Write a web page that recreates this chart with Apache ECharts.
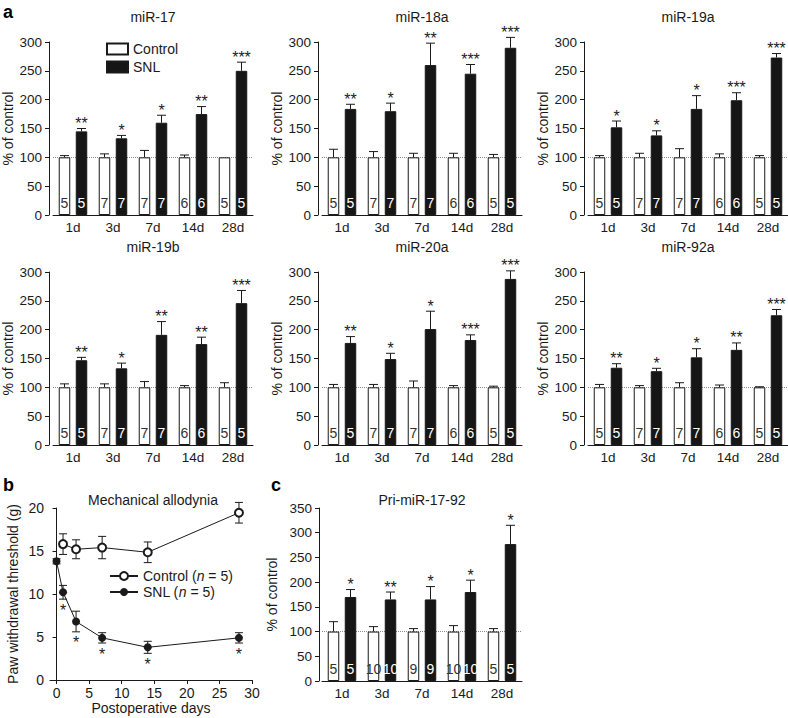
<!DOCTYPE html>
<html>
<head>
<meta charset="utf-8">
<script src="https://cdn.jsdelivr.net/npm/echarts@6/dist/echarts.min.js"></script>
<style>html,body{margin:0;padding:0;background:#fff;}#c{width:788px;height:718px;}</style>
</head>
<body>
<div id="c"></div>
<script>
// ---------- data ----------
const days = ['1d', '3d', '7d', '14d', '28d'];
const panelTitles = ['miR-17', 'miR-18a', 'miR-19a', 'miR-19b', 'miR-20a', 'miR-92a'];
const controlMean = [100, 100, 100, 100, 100];
const snlMean = [
  [145, 133, 160, 175, 250],
  [184, 180, 260, 245, 290],
  [152, 138, 184, 199, 273],
  [147, 133, 191, 175, 246],
  [177, 149, 201, 182, 288],
  [134, 128, 152, 165, 225]
];
const snlErr = [
  [5, 5, 13, 13, 15],
  [8, 14, 38, 16, 18],
  [11, 8, 23, 13, 7],
  [5, 9, 23, 12, 22],
  [11, 10, 31, 9, 14],
  [7, 5, 15, 12, 10]
];
const controlErr = [
  [3, 6, 12, 4, 0],
  [14, 10, 7, 7, 5],
  [3, 7, 15, 6, 3],
  [6, 6, 10, 3, 8],
  [5, 5, 11, 3, 2],
  [5, 3, 8, 4, 1]
];
const snlStars = [
  ['**', '*', '*', '**', '***'],
  ['**', '*', '**', '***', '***'],
  ['*', '*', '*', '***', '***'],
  ['**', '*', '**', '**', '***'],
  ['**', '*', '*', '***', '***'],
  ['**', '*', '*', '**', '***']
];
const nA = [5, 7, 7, 6, 5];

const priTitle = 'Pri-miR-17-92';
const priControlMean = [100, 100, 100, 100, 100];
const priControlErr = [20, 10, 6, 12, 6];
const priSnlMean = [170, 165, 165, 180, 277];
const priSnlErr = [15, 15, 26, 24, 38];
const priStars = ['*', '**', '*', '*', '*'];
const nC = [5, 10, 9, 10, 5];

const painTitle = 'Mechanical allodynia';
const controlDays = [1, 3, 7, 14, 28];
const controlPWT = [15.8, 15.2, 15.4, 14.85, 19.45];
const controlPWTErr = [1.2, 1.1, 1.3, 1.2, 1.2];
const snlDays = [0, 1, 3, 7, 14, 28];
const snlPWT = [13.8, 10.2, 6.8, 4.9, 3.8, 4.9];
const snlPWTErr = [0.3, 0.8, 1.2, 0.6, 0.7, 0.6];
const snlPWTStars = ['', '*', '*', '*', '*', '*'];
const dayTicks = [0, 5, 10, 15, 20, 25, 30];

// ---------- layout / style ----------
const FONT = 'Liberation Sans, Arial, Helvetica, sans-serif';
const INK = '#1a1a1a';
const colLeft = [53, 322, 588];
const rowTop = [42, 272];
const GW = 200, GH = 173;
const BAR_W = 11.5, BAR_OFF = 8.5;

const grids = [], xAxes = [], yAxes = [], series = [], titles = [];

function barAxes(g, left, top, ymax, offset, nameGap) {
  grids.push({left: left, top: top, width: GW, height: GH});
  xAxes.push({
    type: 'category', gridIndex: g, data: days,
    axisLine: {lineStyle: {color: INK, width: 1}},
    axisTick: {show: false},
    axisLabel: {color: INK, fontSize: 13.5, margin: 5, fontFamily: FONT}
  });
  yAxes.push({
    type: 'value', gridIndex: g, min: 0, max: ymax, interval: 50, offset: offset,
    axisLine: {show: true, lineStyle: {color: INK, width: 1}},
    axisTick: {show: true, length: 4, lineStyle: {color: INK}},
    splitLine: {show: false},
    axisLabel: {color: INK, fontSize: 13.5, margin: 7, fontFamily: FONT},
    name: '% of control', nameLocation: 'middle', nameGap: nameGap,
    nameTextStyle: {color: INK, fontSize: 14, fontFamily: FONT}
  });
}

function errBars(g, means, errs, offset, stars) {
  return {
    type: 'custom', xAxisIndex: g, yAxisIndex: g, z: 5, silent: true,
    encode: {x: 0, y: 1},
    data: means.map((m, i) => [i, m, errs[i]]),
    renderItem: function (params, api) {
      const i = api.value(0), m = api.value(1), e = api.value(2);
      const p0 = api.coord([i, m]);
      const p1 = api.coord([i, m + e]);
      const cx = p0[0] + offset;
      const st = {stroke: INK, lineWidth: 1};
      const ch = [];
      if (e > 0) {
        ch.push({type: 'line', shape: {x1: cx, y1: p0[1], x2: cx, y2: p1[1]}, style: st});
        ch.push({type: 'line', shape: {x1: cx - 4.5, y1: p1[1], x2: cx + 4.5, y2: p1[1]}, style: st});
      }
      const s = stars ? stars[params.dataIndex] : '';
      if (s) {
        ch.push({type: 'text', style: {text: s, x: cx, y: p1[1] + 3, align: 'center', verticalAlign: 'bottom',
          fontSize: 16, fontFamily: FONT, fill: '#222222'}});
      }
      return {type: 'group', children: ch};
    }
  };
}

function barSeries(g, ctrl, ctrlErr, snl, sErr, stars, nLab) {
  series.push({
    type: 'bar', name: 'Control', xAxisIndex: g, yAxisIndex: g, data: ctrl,
    barWidth: BAR_W, barGap: '48%',
    itemStyle: {color: '#ffffff', borderColor: INK, borderWidth: 1},
    label: {show: true, position: 'insideBottom', distance: 5, color: '#333', fontSize: 14, fontFamily: FONT,
      formatter: p => String(nLab[p.dataIndex])},
    markLine: {silent: true, symbol: 'none', label: {show: false}, z: 1,
      lineStyle: {type: 'dotted', color: '#8c8c8c', width: 1}, data: [{yAxis: 100}]}
  });
  series.push({
    type: 'bar', name: 'SNL', xAxisIndex: g, yAxisIndex: g, data: snl,
    barWidth: BAR_W, barGap: '48%',
    itemStyle: {color: '#161616', borderColor: INK, borderWidth: 1},
    label: {show: true, position: 'insideBottom', distance: 5, color: '#ffffff', fontSize: 14, fontFamily: FONT,
      formatter: p => String(nLab[p.dataIndex])}
  });
  series.push(errBars(g, ctrl, ctrlErr, -BAR_OFF, null));
  series.push(errBars(g, snl, sErr, BAR_OFF, stars));
}

const titleStyle = {fontSize: 14, fontWeight: 'normal', color: INK, fontFamily: FONT};

// panel a (6 small bar charts)
for (let k = 0; k < 6; k++) {
  const r = Math.floor(k / 3), c = k % 3;
  barAxes(k, colLeft[c], rowTop[r], 300, 4, 34);
  barSeries(k, controlMean, controlErr[k], snlMean[k], snlErr[k], snlStars[k], nA);
  titles.push({text: panelTitles[k], left: colLeft[c] + GW / 2, top: rowTop[r] - 32, padding: 0,
    textAlign: 'center', textStyle: titleStyle});
}

// panel b (line chart), grid index 6
grids.push({left: 50, top: 508, width: 202, height: 172});
xAxes.push({
  type: 'value', gridIndex: 6, min: -1, max: 30,
  axisLine: {lineStyle: {color: INK}},
  axisTick: {show: true, length: 4, lineStyle: {color: INK}, customValues: dayTicks},
  axisLabel: {color: INK, fontSize: 14, margin: 6, fontFamily: FONT, customValues: dayTicks},
  splitLine: {show: false},
  name: 'Postoperative days', nameLocation: 'middle', nameGap: 20,
  nameTextStyle: {color: INK, fontSize: 14, fontFamily: FONT}
});
yAxes.push({
  type: 'value', gridIndex: 6, min: 0, max: 20, interval: 5,
  axisLine: {show: true, lineStyle: {color: INK}},
  axisTick: {show: true, length: 4, lineStyle: {color: INK}},
  splitLine: {show: false},
  axisLabel: {color: INK, fontSize: 14, margin: 6, fontFamily: FONT},
  name: 'Paw withdrawal threshold (g)', nameLocation: 'middle', nameGap: 30,
  nameTextStyle: {color: INK, fontSize: 14, fontFamily: FONT}
});

function lineErr(xs, ys, es, stars) {
  return {
    type: 'custom', xAxisIndex: 6, yAxisIndex: 6, z: 1, silent: true,
    encode: {x: 0, y: 1},
    data: xs.map((x, i) => [x, ys[i], es[i]]),
    renderItem: function (params, api) {
      const x = api.value(0), m = api.value(1), e = api.value(2);
      const pt = api.coord([x, m + e]);
      const pb = api.coord([x, m - e]);
      const st = {stroke: INK, lineWidth: 1};
      const ch = [
        {type: 'line', shape: {x1: pt[0], y1: pt[1], x2: pb[0], y2: pb[1]}, style: st},
        {type: 'line', shape: {x1: pt[0] - 4, y1: pt[1], x2: pt[0] + 4, y2: pt[1]}, style: st},
        {type: 'line', shape: {x1: pb[0] - 4, y1: pb[1], x2: pb[0] + 4, y2: pb[1]}, style: st}
      ];
      const s = stars ? stars[params.dataIndex] : '';
      if (s) {
        ch.push({type: 'text', style: {text: s, x: pb[0], y: pb[1] + 3, align: 'center', verticalAlign: 'top',
          fontSize: 16, fontFamily: FONT, fill: '#222222'}});
      }
      return {type: 'group', children: ch};
    }
  };
}
series.push(lineErr(controlDays, controlPWT, controlPWTErr, null));
series.push(lineErr(snlDays, snlPWT, snlPWTErr, snlPWTStars));
series.push({
  type: 'line', name: 'Control (n = 5)', xAxisIndex: 6, yAxisIndex: 6, z: 3,
  data: controlDays.map((d, i) => [d, controlPWT[i]]),
  symbol: 'emptyCircle', symbolSize: 8,
  itemStyle: {color: INK, borderColor: INK, borderWidth: 1},
  lineStyle: {color: INK, width: 1}
});
series.push({
  type: 'line', name: 'SNL (n = 5)', xAxisIndex: 6, yAxisIndex: 6, z: 3,
  data: snlDays.map((d, i) => [d, snlPWT[i]]),
  symbol: 'circle', symbolSize: 8,
  itemStyle: {color: INK},
  lineStyle: {color: INK, width: 1}
});
titles.push({text: painTitle, left: 153, top: 493, padding: 0, textAlign: 'center', textStyle: titleStyle});

// panel c, grid index 7
barAxes(7, 322, 508, 350, 3, 40);
barSeries(7, priControlMean, priControlErr, priSnlMean, priSnlErr, priStars, nC);
titles.push({text: priTitle, left: 322 + GW / 2, top: 493, padding: 0, textAlign: 'center', textStyle: titleStyle});

// panel letters
const letterStyle = {fontSize: 18, fontWeight: 'bold', color: '#000', fontFamily: FONT};
titles.push({text: 'a', left: 3, top: 3, padding: 0, textStyle: letterStyle});
titles.push({text: 'b', left: 3, top: 476, padding: 0, textStyle: letterStyle});
titles.push({text: 'c', left: 271, top: 476, padding: 0, textStyle: letterStyle});

const option = {
  animation: false,
  backgroundColor: '#ffffff',
  textStyle: {fontFamily: FONT},
  title: titles,
  legend: [
    {
      data: ['Control', 'SNL'], left: 106, top: 42, padding: 0, orient: 'vertical',
      itemWidth: 21, itemHeight: 11, itemGap: 4, icon: 'rect',
      textStyle: {fontSize: 14, color: INK, fontFamily: FONT}, selectedMode: false
    },
    {
      data: ['Control (n = 5)', 'SNL (n = 5)'], left: 109, top: 569, padding: 0, orient: 'vertical',
      itemWidth: 28, itemHeight: 10, itemGap: 2, selectedMode: false,
      formatter: name => name.replace('(n', '({i|n}'),
      textStyle: {fontSize: 14, color: INK, fontFamily: FONT,
        rich: {i: {fontStyle: 'italic', fontSize: 14, color: INK, fontFamily: FONT}}}
    }
  ],
  grid: grids,
  xAxis: xAxes,
  yAxis: yAxes,
  series: series
};

const chart = echarts.init(document.getElementById('c'), null, {renderer: 'svg'});
chart.setOption(option);
</script>
</body>
</html>
